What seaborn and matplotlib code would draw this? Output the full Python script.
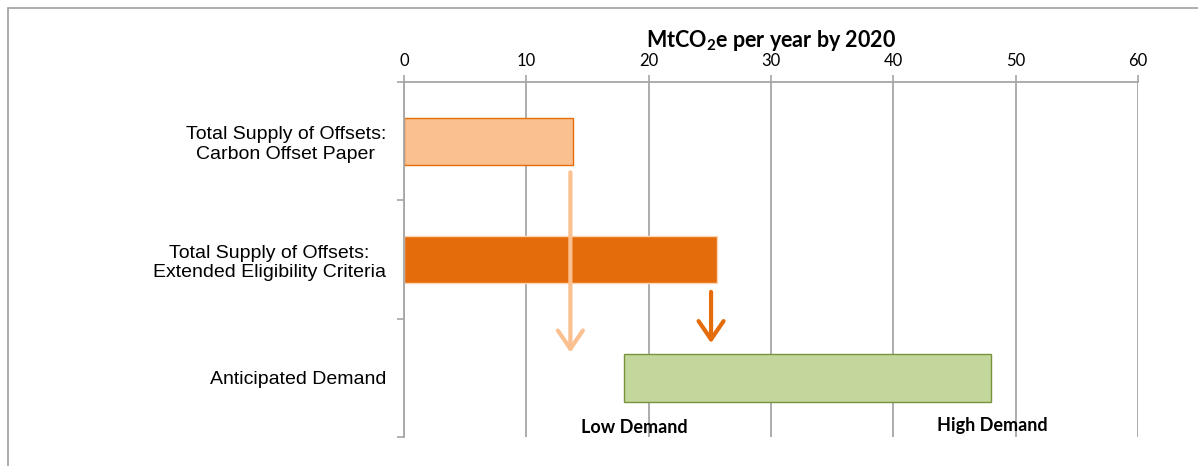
import matplotlib
matplotlib.use("Agg")
import matplotlib.pyplot as plt
import seaborn as sns
import pandas as pd
from matplotlib.patches import Rectangle

# ---- data ----
categories = ["Total Supply of Offsets:\nCarbon Offset Paper",
              "Total Supply of Offsets:\nExtended Eligibility Criteria",
              "Anticipated Demand"]
supply_values = [13.8, 25.6]
demand_low = 18.0
demand_high = 48.0
x_ticks = [0, 10, 20, 30, 40, 50, 60]
axis_title = "MtCO$_2$e per year by 2020"
low_label = "Low Demand"
high_label = "High Demand"
arrow_paper_x = 13.6
arrow_ext_x = 25.1

sns.set_theme(style="white")
plt.rcParams['font.family'] = ['Liberation Sans', 'DejaVu Sans']
plt.rcParams['text.color'] = 'black'
plt.rcParams['xtick.color'] = 'black'
plt.rcParams['ytick.color'] = 'black'
plt.rcParams['axes.labelcolor'] = 'black'
plt.rcParams['mathtext.fontset'] = 'custom'
plt.rcParams['mathtext.rm'] = 'Lato:bold'
plt.rcParams['mathtext.it'] = 'Lato:bold'
plt.rcParams['mathtext.bf'] = 'Lato:bold'

fig = plt.figure(figsize=(11.98, 4.66), dpi=100)
ax = fig.add_axes([404/1198, 1-437/466, (1138-404)/1198, (437-82)/466])

grid_c = "#A6A6A6"

df = pd.DataFrame({"cat": categories[:2], "val": supply_values})
sns.barplot(data=df, y="cat", x="val", hue="cat", order=categories,
            palette=["#FAC090", "#E46C0A"], width=0.4, legend=False, ax=ax,
            saturation=1)
patches = ax.patches
patches[0].set_edgecolor("#E46C0A"); patches[0].set_linewidth(1.0)
patches[1].set_edgecolor("#FCD5B5"); patches[1].set_linewidth(1.0)

# floating demand bar
ax.barh([2], [demand_high - demand_low], left=[demand_low], height=0.4,
        color="#C3D69B", edgecolor="#77933C", linewidth=1.0, zorder=3)

ax.set_xlim(0, 60)
ax.set_ylim(2.5, -0.5)
ax.xaxis.tick_top()
ax.xaxis.set_label_position("top")
ax.set_xticks(x_ticks)
ax.set_xticklabels([str(t) for t in x_ticks], family=['Lato', 'DejaVu Sans'],
                   fontsize=12, color="#000000")
ax.tick_params(axis="x", which="major", length=5, width=1.2, color=grid_c, pad=4)
ax.set_xlabel(axis_title, fontsize=15.5, fontweight="bold",
              family=['Lato', 'DejaVu Sans'], labelpad=5, color="black")
ax.xaxis.grid(True, color=grid_c, linewidth=1.3)
ax.set_axisbelow(True)

ax.set_ylabel("")
ax.set_yticks([0, 1, 2])
ax.set_yticklabels(categories, fontsize=14, ha="right", multialignment="center",
                   color="black")
ax.tick_params(axis="y", which="major", length=0, pad=13)
ax.set_yticks([-0.5, 0.5, 1.5, 2.5], minor=True)
ax.tick_params(axis="y", which="minor", length=5, width=1.2, color=grid_c, left=True)

for s in ["right", "bottom"]:
    ax.spines[s].set_visible(False)
for s in ["left", "top"]:
    ax.spines[s].set_color(grid_c)
    ax.spines[s].set_linewidth(1.3)

# arrows
ax.annotate("", xy=(arrow_paper_x, 1.81), xytext=(arrow_paper_x, 0.24),
            arrowprops=dict(arrowstyle="->,head_length=1.1,head_width=0.75",
                            color="#FAC090", lw=3), zorder=4)
ax.annotate("", xy=(arrow_ext_x, 1.73), xytext=(arrow_ext_x, 1.25),
            arrowprops=dict(arrowstyle="->,head_length=1.1,head_width=0.75",
                            color="#E46C0A", lw=3), zorder=4)

# labels
ax.text(18.8, 2.42, low_label, ha="center", va="center", fontsize=13,
        fontweight="bold", family=['Lato', 'DejaVu Sans'], color="black")
ax.text(48.1, 2.40, high_label, ha="center", va="center", fontsize=13,
        fontweight="bold", family=['Lato', 'DejaVu Sans'], color="black")

# outer border
fig.patches.append(Rectangle((8/1198, -0.1), 1.2, 1 - 8/466 + 0.1,
                             transform=fig.transFigure, fill=False,
                             edgecolor="#A0A0A0", linewidth=1.2))

fig.savefig("out.png", dpi=100, facecolor="white")
